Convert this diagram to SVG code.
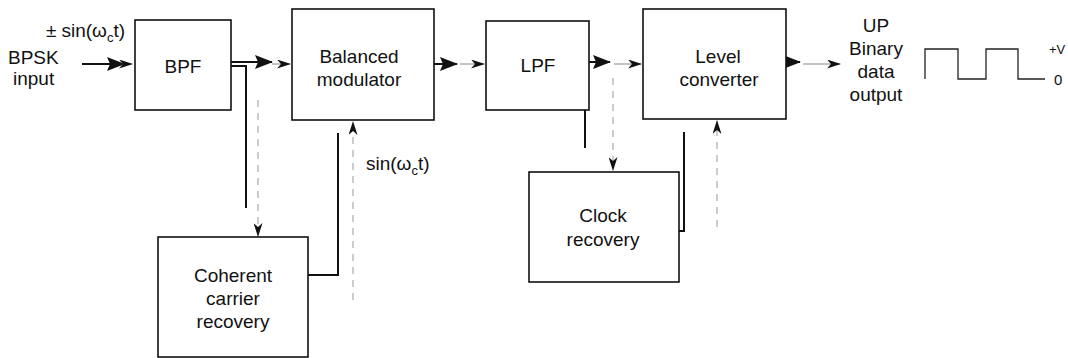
<svg xmlns="http://www.w3.org/2000/svg" width="1068" height="358" viewBox="0 0 1068 358">
<style>
.box{fill:#fff;stroke:#111;stroke-width:1.6}
.t{font-family:"Liberation Sans",Arial,sans-serif;font-size:19px;fill:#111}
.tm{text-anchor:middle}
.sub{font-size:13px}
.solid{fill:none;stroke:#111;stroke-width:2}
.faint{fill:none;stroke:#888;stroke-width:1}
.dash{fill:none;stroke:#999;stroke-width:1;stroke-dasharray:7 6}
.wave{fill:none;stroke:#222;stroke-width:1.3}
</style>
<defs>
<marker id="big" viewBox="0 0 18 14" refX="17" refY="7" markerWidth="18" markerHeight="14" markerUnits="userSpaceOnUse" orient="auto">
<path d="M0,0 L18,7 L0,14 L3,7 z" fill="#111"/>
</marker>
<marker id="small" viewBox="0 0 14 9" refX="13" refY="4.5" markerWidth="14" markerHeight="9" markerUnits="userSpaceOnUse" orient="auto">
<path d="M0,0 L14,4.5 L0,9 L4,4.5 z" fill="#111"/>
</marker>
</defs>
<rect width="1068" height="358" fill="#fff"/>

<g id="connectors">
<path class="solid" d="M82,64 H124" marker-end="url(#big)"/>
<path class="faint" d="M122,64 H132" marker-end="url(#small)"/>
<path class="solid" d="M231,62 H272" marker-end="url(#big)"/>
<path class="solid" d="M231,66 H246 V208"/>
<path class="faint" d="M272,64 H290" marker-end="url(#small)"/>
<path class="dash" d="M258,100 V236" marker-end="url(#small)"/>
<path class="solid" d="M302,275 H338 V133"/>
<path class="dash" d="M353,300 V122" marker-end="url(#small)"/>
<path class="solid" d="M417,64 H457" marker-end="url(#big)"/>
<path class="faint" d="M460,64 H484" marker-end="url(#small)"/>
<path class="solid" d="M570,62 H610" marker-end="url(#big)"/>
<path class="solid" d="M585,62 V148"/>
<path class="faint" d="M614,64 H641" marker-end="url(#small)"/>
<path class="dash" d="M613,78 V170" marker-end="url(#small)"/>
<path class="solid" d="M650,231 H684 V132"/>
<path class="dash" d="M717,227 V121" marker-end="url(#small)"/>
<path class="solid" d="M760,62 H800" marker-end="url(#big)"/>
<path class="faint" d="M803,64 H840" marker-end="url(#small)"/>
</g>

<g id="input-label">
<text class="t" x="46" y="37">±<tspan dx="5">sin(ω</tspan><tspan class="sub" dy="5">c</tspan><tspan dy="-5">t)</tspan></text>
<text class="t" x="8" y="64">BPSK</text>
<text class="t" x="13" y="85">input</text>
</g>

<g id="bpf">
<rect class="box" x="135" y="20" width="96" height="90"/>
<text class="t tm" x="183" y="73">BPF</text>
</g>

<g id="balanced-modulator">
<rect class="box" x="292" y="9" width="142" height="111"/>
<text class="t tm" x="359" y="63">Balanced</text>
<text class="t tm" x="359" y="86">modulator</text>
</g>

<g id="lpf">
<rect class="box" x="486" y="21" width="103" height="89"/>
<text class="t tm" x="538" y="72">LPF</text>
</g>

<g id="level-converter">
<rect class="box" x="643" y="9" width="143" height="110"/>
<text class="t tm" x="718" y="63">Level</text>
<text class="t tm" x="719" y="86">converter</text>
</g>

<g id="carrier-recovery">
<rect class="box" x="158" y="237" width="150" height="120"/>
<text class="t tm" x="233" y="282">Coherent</text>
<text class="t tm" x="233" y="305">carrier</text>
<text class="t tm" x="233" y="328">recovery</text>
</g>

<g id="sin-label">
<text class="t" x="366" y="170">sin(ω<tspan class="sub" dy="5">c</tspan><tspan dy="-5">t)</tspan></text>
</g>

<g id="clock-recovery">
<rect class="box" x="529" y="172" width="150" height="110"/>
<text class="t tm" x="603" y="222">Clock</text>
<text class="t tm" x="603" y="246">recovery</text>
</g>

<g id="output-label">
<text class="t tm" x="876" y="32">UP</text>
<text class="t tm" x="876" y="55">Binary</text>
<text class="t tm" x="876" y="78">data</text>
<text class="t tm" x="876" y="101">output</text>
</g>

<g id="waveform">
<path class="wave" d="M925,79 V49 H958 V79 H986 V49 H1018 V79 H1045"/>
<text class="t" x="1049" y="54" style="font-size:13px">+V</text>
<text class="t" x="1054" y="85" style="font-size:15px">0</text>
</g>
</svg>
